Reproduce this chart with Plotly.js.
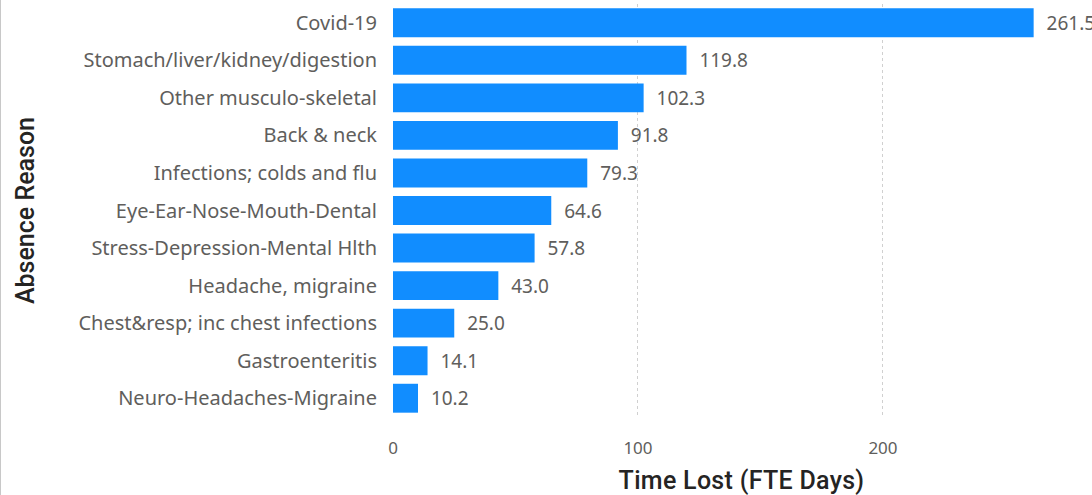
<!DOCTYPE html>
<html>
<head>
<meta charset="utf-8">
<script src="https://cdn.plot.ly/plotly-3.0.1.min.js"></script>
<style>
html,body{margin:0;padding:0;background:#fff;overflow:hidden;}
#chart{width:1091px;height:495px;border-left:1px solid #c8c8c8;}
#chart .g-xtitle text{letter-spacing:0.3px;}
</style>
</head>
<body>
<div id="chart"></div>
<script>
const reasons = [
  "Covid-19",
  "Stomach/liver/kidney/digestion",
  "Other musculo-skeletal",
  "Back & neck",
  "Infections; colds and flu",
  "Eye-Ear-Nose-Mouth-Dental",
  "Stress-Depression-Mental Hlth",
  "Headache, migraine",
  "Chest&resp; inc chest infections",
  "Gastroenteritis",
  "Neuro-Headaches-Migraine"
];
const daysLost = [261.5, 119.8, 102.3, 91.8, 79.3, 64.6, 57.8, 43.0, 25.0, 14.1, 10.2];
const xTicks = [0, 100, 200];

const trace = {
  type: 'bar',
  orientation: 'h',
  y: reasons,
  x: daysLost,
  marker: {color: '#118DFF'},
  text: daysLost.map(v => '\u00a0\u00a0' + v.toFixed(1)),
  textposition: 'outside',
  cliponaxis: false,
  textfont: {family: 'Noto Sans, sans-serif', size: 19, color: '#605E5C'},
  hoverinfo: 'none'
};

const layout = {
  width: 1091, height: 495,
  margin: {l: 392, r: 2, t: 4, b: 78},
  paper_bgcolor: '#fff', plot_bgcolor: '#fff',
  bargap: 0.23,
  showlegend: false,
  xaxis: {
    range: [0, 284.5],
    tickvals: xTicks,
    ticktext: xTicks.map(String),
    showgrid: true, gridcolor: '#d0d0d0', griddash: 'dot', gridwidth: 1,
    zeroline: false, showline: false, ticks: '',
    ticklabelstandoff: 19,
    tickfont: {family: 'Noto Sans, sans-serif', size: 17, color: '#605E5C'},
    title: {text: '\u00a0\u00a0Time Lost (FTE Days)', standoff: 18,
            font: {family: 'Roboto, sans-serif', size: 25, weight: 500, color: '#252423'}}
  },
  yaxis: {
    categoryorder: 'array', categoryarray: reasons.slice().reverse(),
    autorange: false, range: [-0.5, reasons.length - 0.5],
    showgrid: false, zeroline: false, showline: false, ticks: '',
    ticklabelstandoff: 15,
    tickfont: {family: 'Noto Sans, sans-serif', size: 20, color: '#605E5C'},
    title: {text: 'Absence Reason', standoff: 36,
            font: {family: 'Roboto, sans-serif', size: 25, weight: 500, color: '#252423'}}
  }
};

Plotly.newPlot('chart', [trace], layout, {staticPlot: true, displayModeBar: false});
</script>
</body>
</html>
